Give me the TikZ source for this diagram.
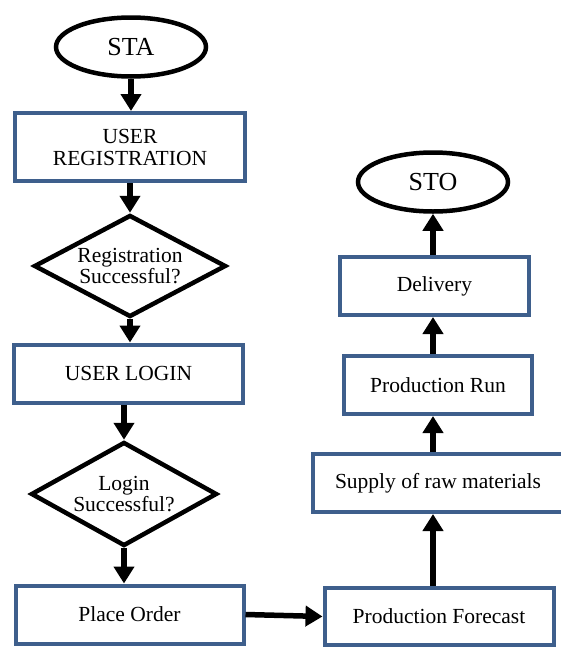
\documentclass[tikz,border=0pt]{standalone}
\usepackage{fontspec}
\setmainfont{Liberation Serif}
\usetikzlibrary{shapes.geometric,arrows.meta}
\definecolor{boxblue}{RGB}{62,95,140}
\begin{document}
\begin{tikzpicture}[x=1pt, y=-1pt, inner sep=0pt,
		boxstyle/.style={draw=boxblue, line width=4pt, fill=white, align=center,
			font=\fontsize{21.5}{22}\selectfont},
		termstyle/.style={draw, ellipse, line width=4.5pt, fill=white,
			minimum width=150pt, minimum height=59pt, font=\fontsize{26}{28}\selectfont},
		decstyle/.style={draw, diamond, aspect=1.85, line width=4.5pt, fill=white,
			align=center, font=\fontsize{21.5}{21.5}\selectfont},
		arrowstyle/.style={line width=5.5pt, -{Triangle[width=20pt,length=17pt]}}]
		\useasboundingbox (0,0) rectangle (561,648);

		% left column
		\node [termstyle] (sta) at (131,47) {STA};
		\node [boxstyle, minimum width=230pt, minimum height=68pt] (reg) at (130,147) {USER\\REGISTRATION};
		\node [decstyle, minimum width=192pt, minimum height=102pt] (regok) at (130,266) {Registration\\Successful?};
		\node [boxstyle, minimum width=229pt, minimum height=58pt] (login) at (128.5,373.5) {USER LOGIN};
		\node [decstyle, minimum width=186pt, minimum height=104pt] (loginok) at (124,494) {Login\\Successful?};
		\node [boxstyle, minimum width=228pt, minimum height=58pt] (order) at (129.5,614.5) {Place Order};

		% right column
		\node [boxstyle, minimum width=229pt, minimum height=57pt] (forecast) at (439,616.5) {Production Forecast};
		\node [boxstyle, minimum width=250pt, minimum height=58pt] (supply) at (438,483) {Supply of raw materials};
		\node [boxstyle, minimum width=188pt, minimum height=58pt] (run) at (438,385) {Production Run};
		\node [boxstyle, minimum width=189pt, minimum height=58pt] (delivery) at (434.5,286) {Delivery};
		\node [termstyle] (sto) at (433,182) {STO};

		\draw [arrowstyle] (sta.south) -- (sta.south |- reg.north);
		\draw [arrowstyle] (reg.south) -- (reg.south |- regok.north);
		\draw [arrowstyle] (regok.south) -- (regok.south |- login.north);
		\draw [arrowstyle] (loginok.north |- login.south) -- (loginok.north);
		\draw [arrowstyle] (loginok.south) -- (loginok.south |- order.north);
		\draw [arrowstyle] (order.east) -- (forecast.west);

		\foreach \i/\j in {forecast/supply, supply/run, run/delivery, delivery/sto}
			\draw [arrowstyle] (\i.north -| sto.south) -- (\j.south -| sto.south);
\end{tikzpicture}
\end{document}
